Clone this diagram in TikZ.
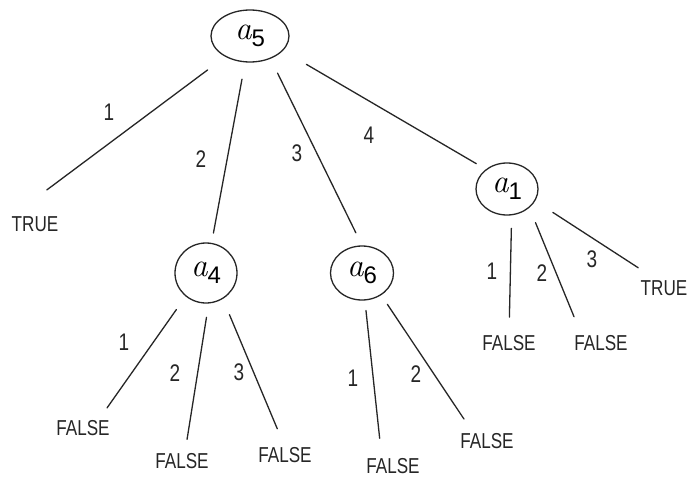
\documentclass[tikz,border=0pt]{standalone}
\usepackage{fontspec}
\setmainfont{Liberation Sans}
\newfontfamily\lmroman{Latin Modern Roman}
\usetikzlibrary{shapes.geometric}
% variable name: italic a with a sans subscript digit
\newcommand\varname[1]{{\lmroman\itshape\fontsize{33}{33}\selectfont a}\raisebox{-7pt}{\fontsize{24}{24}\selectfont #1}}
% narrow, tall lettering
\newcommand\tall[1]{\scalebox{0.95}[1.2]{#1}}
\begin{document}
\begin{tikzpicture}[x=1pt,y=-1pt,
  ink/.style={draw=black!85, line width=1.3pt, line cap=round},
  var/.style={ink, ellipse, inner sep=0pt},
  leaf/.style={inner sep=0pt, font=\fontsize{18}{18}\selectfont, text=black!85},
  lbl/.style={inner sep=0pt, font=\fontsize{20}{20}\selectfont, text=black!85}]
\fill[white] (0,0) rectangle (700,495);
\useasboundingbox (0,0) rectangle (700,495);

% decision nodes
\node[var, minimum width=78pt, minimum height=52pt] (a5) at (250,36) {\varname{5}};
\node[var, minimum width=62pt, minimum height=60pt] (a4) at (206,273) {\varname{4}};
\node[var, minimum width=63pt, minimum height=54pt] (a6) at (362,273) {\varname{6}};
\node[var, minimum width=62pt, minimum height=52pt] (a1) at (507,189) {\varname{1}};

% outcomes
\node[leaf] (t1) at (35,224) {\tall{TRUE}};
\node[leaf] (t2) at (664,288) {\tall{TRUE}};
\node[leaf] (f1) at (83,428) {\tall{FALSE}};
\node[leaf] (f2) at (182,461) {\tall{FALSE}};
\node[leaf] (f3) at (285,455) {\tall{FALSE}};
\node[leaf] (f4) at (393,466) {\tall{FALSE}};
\node[leaf] (f5) at (487,441) {\tall{FALSE}};
\node[leaf] (f6) at (509,343) {\tall{FALSE}};
\node[leaf] (f7) at (601,343) {\tall{FALSE}};

% branches
\draw[ink, shorten <=22pt, shorten >=44pt] (a5.220) -- (t1.north west);
\draw[ink, shorten <=17pt, shorten >=10pt] (a5) -- (a4);
\draw[ink, shorten <=16pt, shorten >=14pt] (a5.312) -- (a6.north);
\draw[ink, shorten <=27pt, shorten >=11pt] (a5.336) -- (a1.137);
\draw[ink, shorten <=13pt, shorten >=18pt] (a1.280) -- (f6.north);
\draw[ink, shorten <=16pt, shorten >=20pt] (a1.320) -- (f7.158);
\draw[ink, shorten <=21pt, shorten >=23pt] (a1.337) -- (t2.130);
\draw[ink, shorten <=16pt, shorten >=15pt] (a4.229) -- (f1.27);
\draw[ink, shorten <=14pt, shorten >=14pt] (a4.275) -- (f2.70);
\draw[ink, shorten <=17pt, shorten >=20pt] (a4.303) -- (f3.north);
\draw[ink, shorten <=10pt, shorten >=20pt] (a6.276) -- (f4.145);
\draw[ink, shorten <=11pt, shorten >=17pt] (a6.311) -- (f5.150);

% branch values
\node[lbl] (l51) at (109,112) {\tall{1}};
\node[lbl] (l52) at (201,159) {\tall{2}};
\node[lbl] (l53) at (297,153) {\tall{3}};
\node[lbl] (l54) at (369,135) {\tall{4}};
\node[lbl] (l11) at (492,271) {\tall{1}};
\node[lbl] (l12) at (542,273) {\tall{2}};
\node[lbl] (l13) at (592,259) {\tall{3}};
\node[lbl] (l41) at (124,342) {\tall{1}};
\node[lbl] (l42) at (175,373) {\tall{2}};
\node[lbl] (l43) at (239,372) {\tall{3}};
\node[lbl] (l61) at (353,378) {\tall{1}};
\node[lbl] (l62) at (416,374) {\tall{2}};
\end{tikzpicture}
\end{document}
